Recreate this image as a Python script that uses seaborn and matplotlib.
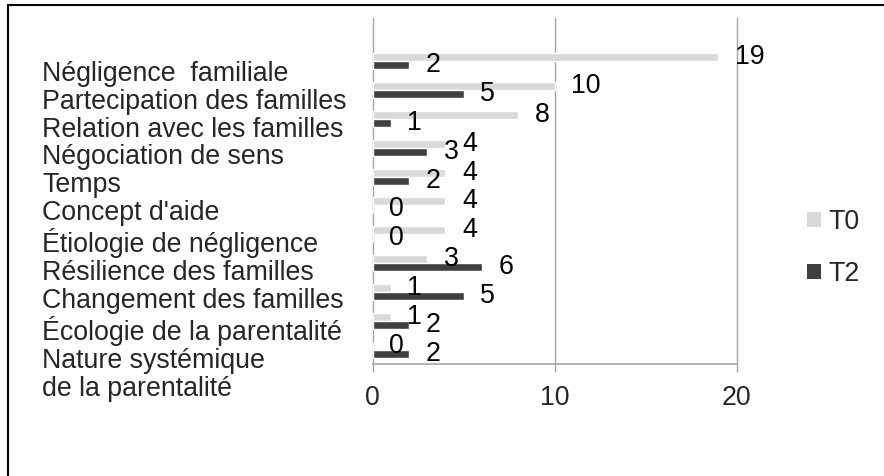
import pandas as pd
import matplotlib
matplotlib.use("Agg")
from matplotlib import pyplot as plt
from matplotlib.lines import Line2D
from matplotlib.patches import Patch
import seaborn as sns

categories = [
    "Négligence  familiale",
    "Partecipation des familles",
    "Relation avec les familles",
    "Négociation de sens",
    "Temps",
    "Concept d'aide",
    "Étiologie de négligence",
    "Résilience des familles",
    "Changement des familles",
    "Écologie de la parentalité",
    "Nature systémique\nde la parentalité",
]
t0 = [19, 10, 8, 4, 4, 4, 4, 3, 1, 1, 0]
t2 = [2, 5, 1, 3, 2, 0, 0, 6, 5, 2, 2]
series = ["T0", "T2"]
colors = {"T0": "#d9d9d9", "T2": "#404040"}
x_ticks = [0, 10, 20]

df = pd.DataFrame({"cat": categories * 2,
                   "value": t0 + t2,
                   "series": ["T0"] * len(t0) + ["T2"] * len(t2)})

sns.set_style("white")
plt.rcParams["font.family"] = ["Liberation Sans", "DejaVu Sans"]
fs = 19.3

fig = plt.figure(figsize=(8.84, 4.76), dpi=100)
ax = fig.add_axes([372.5 / 884, 1 - 364 / 476, (736.7 - 372.5) / 884, (364 - 18) / 476])

sns.barplot(data=df, y="cat", x="value", hue="series", hue_order=series,
            palette=colors, orient="h", width=0.55, dodge=True,
            saturation=1, ax=ax, legend=False)

for cont in ax.containers:
    ax.bar_label(cont, padding=12, fontsize=fs, color="black")

ax.set_xlim(0, 20)
ax.set_ylim(len(categories) - 0.5, -1.5)
ax.set_xticks(x_ticks)
ax.set_yticks([])
ax.set_xlabel("")
ax.set_ylabel("")
ax.tick_params(axis="x", labelsize=fs, length=6, width=1, color="#a6a6a6",
               direction="out", pad=9, bottom=True)
ax.grid(axis="x", color="#a6a6a6", linewidth=1)
for gl in ax.get_xgridlines():
    gl.set_clip_on(False)
ax.set_axisbelow(True)
for s in ["top", "right", "left"]:
    ax.spines[s].set_visible(False)
ax.spines["bottom"].set_color("#a6a6a6")
ax.spines["bottom"].set_linewidth(1.2)

# category labels as one text column on the left
fig.text(42 / 884, 1 - 61 / 476, "\n".join(categories), fontsize=fs,
         va="top", ha="left", linespacing=1.09)

handles = [Patch(facecolor=colors[s], edgecolor="none") for s in series]
fig.legend(handles, series, loc="center left", bbox_to_anchor=(794 / 884, 1 - 248 / 476),
           frameon=False, fontsize=fs, handlelength=0.5, handleheight=0.5,
           handletextpad=0.3, labelspacing=0.95, borderpad=0)

# outer frame (top and left edges visible)
fig.add_artist(Line2D([8 / 884, 1.0], [1 - 5 / 476, 1 - 5 / 476], color="black", lw=1.5,
                      transform=fig.transFigure))
fig.add_artist(Line2D([8 / 884, 8 / 884], [0, 1 - 5 / 476], color="black", lw=1.5,
                      transform=fig.transFigure))

fig.savefig("out.png", dpi=100, facecolor="white")
